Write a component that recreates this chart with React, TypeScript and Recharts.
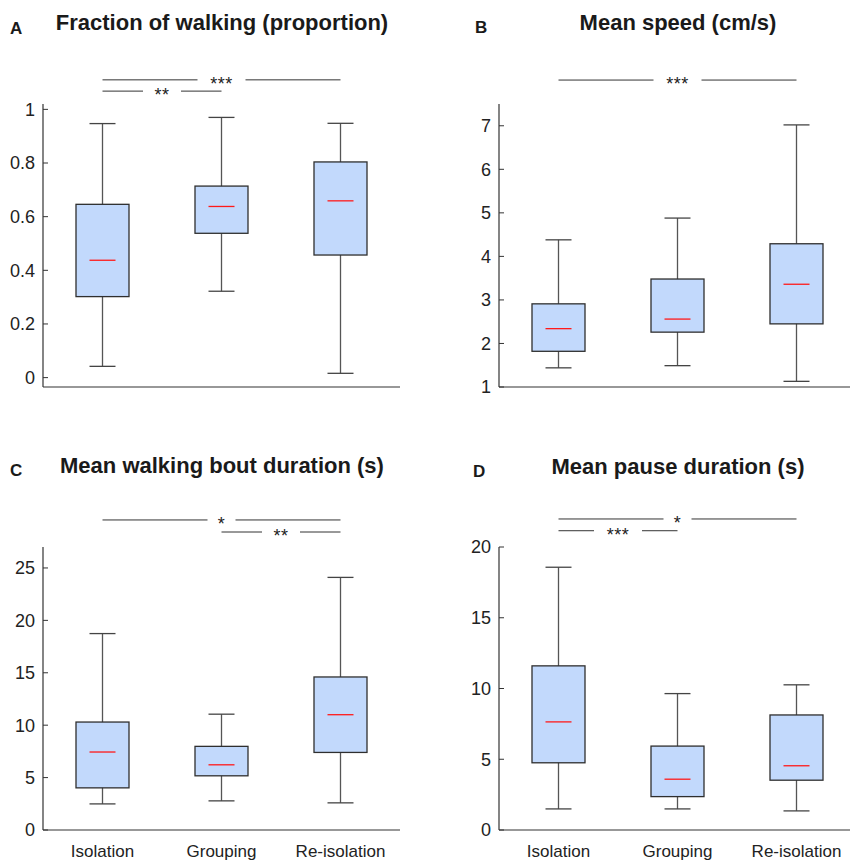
import { Bar, ComposedChart, ReferenceLine, XAxis, YAxis } from "recharts";

const groups = ["Isolation", "Grouping", "Re-isolation"];

// A - fraction of walking
const walkLow = [0.042, 0.322, 0.016];
const walkQ1 = [0.302, 0.538, 0.457];
const walkMed = [0.4375, 0.638, 0.659];
const walkQ3 = [0.646, 0.714, 0.804];
const walkHigh = [0.947, 0.97, 0.948];
const walkTicks = [0, 0.2, 0.4, 0.6, 0.8, 1];

// B - mean speed
const speedLow = [1.44, 1.49, 1.13];
const speedQ1 = [1.82, 2.26, 2.45];
const speedMed = [2.34, 2.56, 3.36];
const speedQ3 = [2.91, 3.48, 4.29];
const speedHigh = [4.38, 4.88, 7.02];
const speedTicks = [1, 2, 3, 4, 5, 6, 7];

// C - walking bout duration
const boutLow = [2.49, 2.78, 2.59];
const boutQ1 = [4.02, 5.17, 7.4];
const boutMed = [7.44, 6.22, 11.0];
const boutQ3 = [10.3, 7.98, 14.6];
const boutHigh = [18.74, 11.05, 24.1];
const boutTicks = [0, 5, 10, 15, 20, 25];

// D - pause duration
const pauseLow = [1.49, 1.49, 1.35];
const pauseQ1 = [4.75, 2.36, 3.52];
const pauseMed = [7.64, 3.59, 4.54];
const pauseQ3 = [11.6, 5.93, 8.13];
const pauseHigh = [18.57, 9.64, 10.26];
const pauseTicks = [0, 5, 10, 15, 20];

type Sig = { from: string; to: string; y: number; text: string };

const walkSigs: Sig[] = [
  { from: "Isolation", to: "Re-isolation", y: 1.11, text: "***" },
  { from: "Isolation", to: "Grouping", y: 1.068, text: "**" },
];
const speedSigs: Sig[] = [{ from: "Isolation", to: "Re-isolation", y: 8.05, text: "***" }];
const boutSigs: Sig[] = [
  { from: "Isolation", to: "Re-isolation", y: 29.58, text: "*" },
  { from: "Grouping", to: "Re-isolation", y: 28.43, text: "**" },
];
const pauseSigs: Sig[] = [
  { from: "Isolation", to: "Re-isolation", y: 21.98, text: "*" },
  { from: "Isolation", to: "Grouping", y: 21.15, text: "***" },
];

function makeRows(low: number[], q1: number[], med: number[], q3: number[], high: number[]) {
  return groups.map((name, i) => ({
    name,
    range: [low[i], high[i]],
    q1: q1[i],
    med: med[i],
    q3: q3[i],
  }));
}

const FONT = "'Liberation Sans', Arial, sans-serif";

// whisker + box + median, positions interpolated inside the bar rect recharts gives us
function BoxShape(props: any) {
  const { x, y, width, height, payload } = props;
  const [lo, hi] = payload.range;
  const top = Math.min(y, y + height);
  const bot = Math.max(y, y + height);
  const py = (v: number) => bot - ((bot - top) * (v - lo)) / (hi - lo);
  const cx = x + width / 2;
  const cap = 13;
  return (
    <g>
      <line x1={cx} x2={cx} y1={top} y2={bot} stroke="#555" strokeWidth={1.3} />
      <line x1={cx - cap} x2={cx + cap} y1={top} y2={top} stroke="#444" strokeWidth={1.3} />
      <line x1={cx - cap} x2={cx + cap} y1={bot} y2={bot} stroke="#444" strokeWidth={1.3} />
      <rect x={x} y={py(payload.q3)} width={width} height={py(payload.q1) - py(payload.q3)} fill="#c2d9fc" stroke="#2f2f2f" strokeWidth={1.3} />
      <line x1={cx - cap} x2={cx + cap} y1={py(payload.med)} y2={py(payload.med)} stroke="#ff1a1a" strokeWidth={1.3} />
    </g>
  );
}

function SigLabel({ viewBox, text }: any) {
  if (!viewBox) return null;
  const cx = viewBox.x + viewBox.width / 2;
  const cy = viewBox.y;
  const gap = 10 * text.length + 18;
  return (
    <g>
      <rect x={cx - gap / 2} y={cy - 6} width={gap} height={12} fill="#fff" />
      <text x={cx} y={cy + 10} textAnchor="middle" fontSize={18} letterSpacing={0.5} fill="#222" fontFamily={FONT}>
        {text}
      </text>
    </g>
  );
}

function Panel(p: {
  left: number; top: number; width: number; height: number;
  mTop: number; mRight: number; axisW: number; xH: number;
  names: boolean; domain: number[]; ticks: number[]; rows: any[]; sigs: Sig[];
}) {
  return (
    <div style={{ position: "absolute", left: p.left, top: p.top }}>
      <ComposedChart width={p.width} height={p.height} data={p.rows} margin={{ top: p.mTop, right: p.mRight, left: 0, bottom: 0 }}>
        <XAxis
          dataKey="name"
          height={p.xH}
          axisLine={{ stroke: "#333", strokeWidth: 1.2 }}
          tickLine={false}
          tickSize={0}
          tickMargin={15}
          fontSize={17}
          tick={p.names ? { fill: "#222", fontSize: 17, fontFamily: FONT } : false}
          interval={0}
        />
        <YAxis
          width={p.axisW}
          domain={p.domain}
          ticks={p.ticks}
          allowDataOverflow
          axisLine={{ stroke: "#333", strokeWidth: 1.2 }}
          tickLine={{ stroke: "#333" }}
          tickSize={-5}
          tickMargin={13}
          fontSize={18}
          tick={{ fill: "#222", fontSize: 18, fontFamily: FONT }}
        />
        <Bar dataKey="range" barSize={53} shape={BoxShape} isAnimationActive={false} />
        {p.sigs.map((s, i) => (
          <ReferenceLine
            key={i}
            segment={[{ x: s.from, y: s.y }, { x: s.to, y: s.y }]}
            ifOverflow="visible"
            stroke="#333"
            strokeWidth={1}
            label={<SigLabel text={s.text} />}
          />
        ))}
      </ComposedChart>
    </div>
  );
}

export default function App() {
  return (
    <div style={{ position: "absolute", left: 0, top: 0, width: 850, height: 861, overflow: "hidden", background: "#fff", fontFamily: FONT }}>
      <Panel left={0} top={0} width={425} height={430} mTop={104} mRight={25} axisW={43} xH={43}
        names={false} domain={[-0.035, 1.02]} ticks={walkTicks} sigs={walkSigs}
        rows={makeRows(walkLow, walkQ1, walkMed, walkQ3, walkHigh)} />
      <Panel left={425} top={0} width={431} height={430} mTop={104} mRight={0} axisW={74} xH={43}
        names={false} domain={[1, 7.5]} ticks={speedTicks} sigs={speedSigs}
        rows={makeRows(speedLow, speedQ1, speedMed, speedQ3, speedHigh)} />
      <Panel left={0} top={440} width={425} height={421} mTop={107} mRight={25} axisW={43} xH={31}
        names={true} domain={[0, 27]} ticks={boutTicks} sigs={boutSigs}
        rows={makeRows(boutLow, boutQ1, boutMed, boutQ3, boutHigh)} />
      <Panel left={425} top={440} width={431} height={421} mTop={107} mRight={0} axisW={74} xH={31}
        names={true} domain={[0, 20]} ticks={pauseTicks} sigs={pauseSigs}
        rows={makeRows(pauseLow, pauseQ1, pauseMed, pauseQ3, pauseHigh)} />
      <svg width={850} height={861} style={{ position: "absolute", left: 0, top: 0, pointerEvents: "none" }}>
        <g fontFamily={FONT} fontWeight="bold" fill="#1a1a1a">
          <text x={10} y={34} fontSize={17}>A</text>
          <text x={475} y={33} fontSize={17}>B</text>
          <text x={10} y={476} fontSize={17}>C</text>
          <text x={473} y={477} fontSize={17}>D</text>
          <text x={222} y={30} fontSize={22} textAnchor="middle">Fraction of walking (proportion)</text>
          <text x={678} y={30} fontSize={22} textAnchor="middle">Mean speed (cm/s)</text>
          <text x={222} y={473} fontSize={22} textAnchor="middle">Mean walking bout duration (s)</text>
          <text x={678} y={474} fontSize={22} textAnchor="middle">Mean pause duration (s)</text>
        </g>
      </svg>
    </div>
  );
}
